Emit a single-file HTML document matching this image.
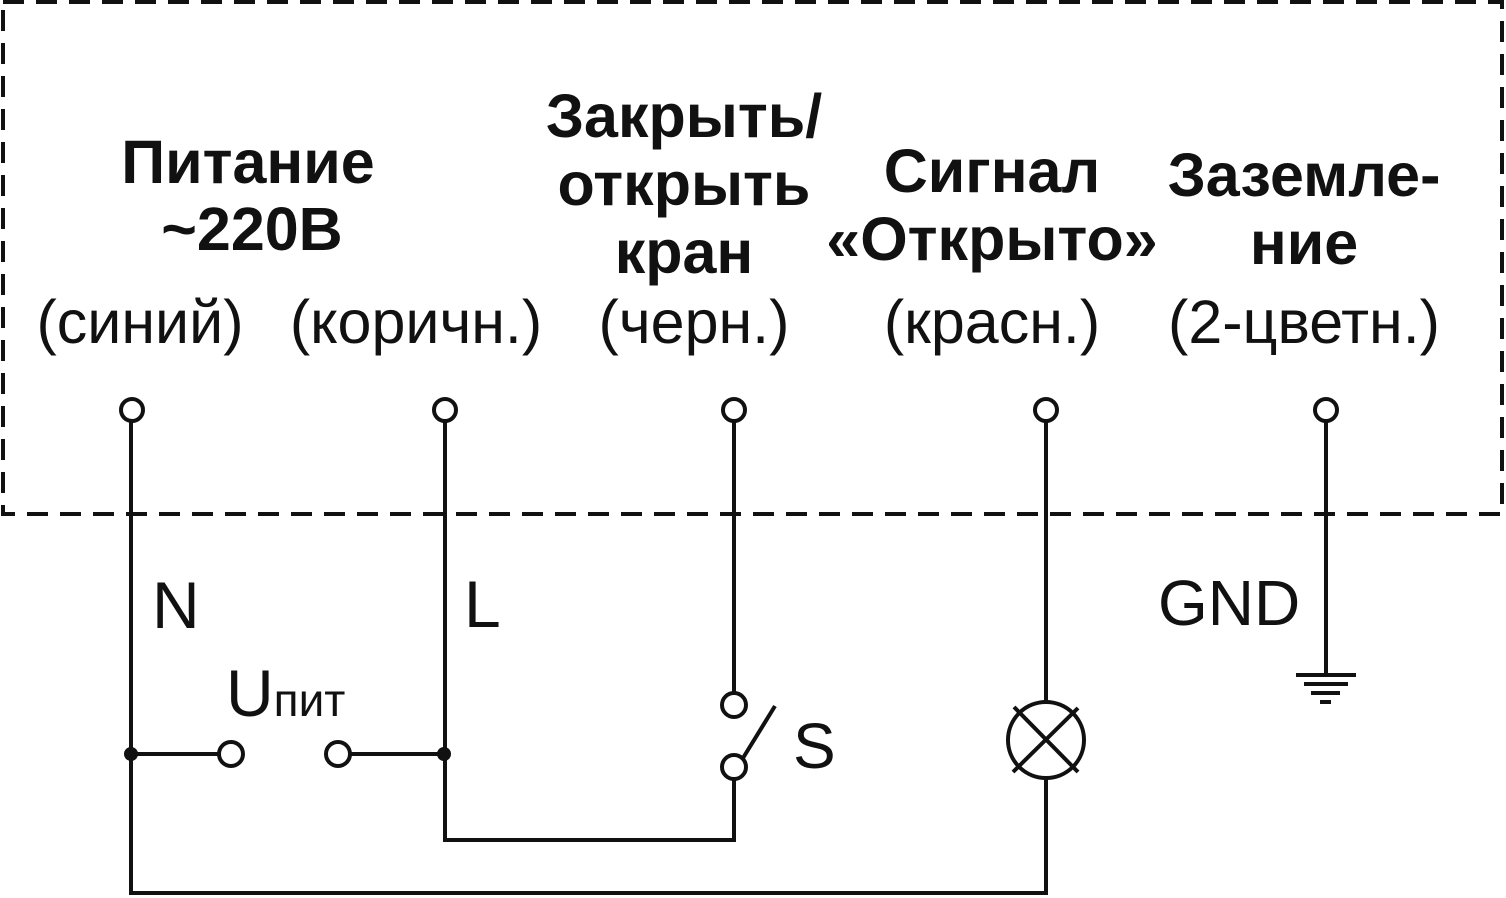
<!DOCTYPE html>
<html><head><meta charset="utf-8"><style>
body{margin:0;background:#fff}
svg{display:block}
text{font-family:"Liberation Sans",Arial,sans-serif;fill:#111}
.b{font-weight:bold;font-size:61px}
.r{font-size:61px}
</style></head><body>
<svg width="1506" height="898" viewBox="0 0 1506 898" xmlns="http://www.w3.org/2000/svg">
<rect x="3" y="2" width="1499" height="512" fill="none" stroke="#111" stroke-width="4" stroke-dasharray="21 12"/>
<g text-anchor="middle">
<text class="b" x="248" y="183">Питание</text>
<text class="b" x="252" y="250">~220В</text>
<text class="b" x="684" y="137">Закрыть/</text>
<text class="b" x="684" y="205">открыть</text>
<text class="b" x="684" y="273">кран</text>
<text class="b" x="992" y="192">Сигнал</text>
<text class="b" x="992" y="260">«Открыто»</text>
<text class="b" x="1304" y="196">Заземле-</text>
<text class="b" x="1304" y="264">ние</text>
<text class="r" x="140" y="343">(синий)</text>
<text class="r" x="416" y="343">(коричн.)</text>
<text class="r" x="694" y="343">(черн.)</text>
<text class="r" x="992" y="343">(красн.)</text>
<text class="r" x="1304" y="343">(2-цветн.)</text>
</g>
<text x="152" y="628" style="font-size:66px">N</text>
<text x="464" y="627" style="font-size:66px">L</text>
<text x="1158" y="625" style="font-size:64px">GND</text>
<text x="226" y="716" style="font-size:66px">U<tspan style="font-size:46px">пит</tspan></text>
<text x="793" y="768" style="font-size:64px">S</text>
<g stroke="#111" stroke-width="4" fill="none">
<circle cx="132" cy="410" r="11" fill="#fff"/>
<circle cx="445" cy="410" r="11" fill="#fff"/>
<circle cx="734" cy="410" r="11" fill="#fff"/>
<circle cx="1046" cy="410" r="11" fill="#fff"/>
<circle cx="1326" cy="410" r="11" fill="#fff"/>
<path d="M131 421V893H1046V778"/>
<path d="M445 421V840H734V779"/>
<path d="M734 421V693"/>
<path d="M1046 421V702"/>
<path d="M1326 421V675"/>
<path d="M131 754H219M350 754H444"/>
<circle cx="231" cy="754" r="12" fill="#fff"/>
<circle cx="338" cy="754" r="12" fill="#fff"/>
<circle cx="734" cy="705" r="12"/>
<circle cx="734" cy="767" r="12"/>
<path d="M743 758L775 706"/>
<circle cx="1046" cy="740" r="38"/>
<path d="M1014 707L1078 772M1078 708L1013 772"/>
<path d="M1296 675H1356M1304 684H1348M1311 693H1340M1320 702H1331"/>
</g>
<circle cx="131" cy="754" r="7" fill="#111"/>
<circle cx="444" cy="754" r="7" fill="#111"/>
</svg>
</body></html>
